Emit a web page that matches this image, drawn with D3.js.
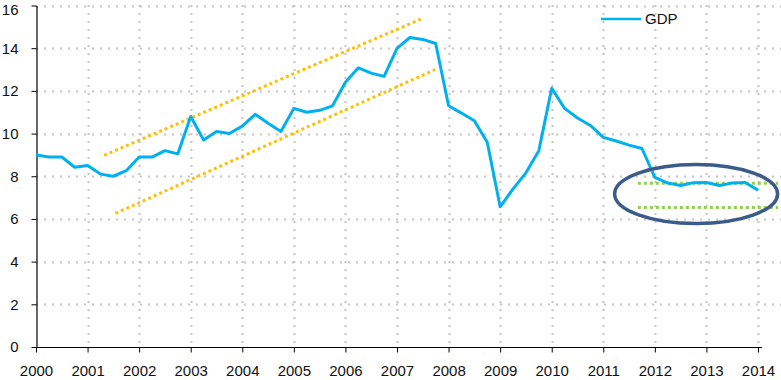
<!DOCTYPE html>
<html><head><meta charset="utf-8">
<script src="https://cdn.jsdelivr.net/npm/d3@7"></script>
<style>html,body{margin:0;padding:0;background:#fff;}svg{display:block;font-family:"Liberation Sans",Arial,sans-serif;}</style>
</head><body>
<svg id="c" width="781" height="380"></svg>
<script>
const startYear = 2000;
const gdp = [9.0,8.9,8.9,8.42,8.5,8.1,8.0,8.26,8.9,8.9,9.2,9.05,10.8,9.7,10.1,10.0,10.35,10.9,10.48,10.1,
  11.18,11.0,11.09,11.3,12.4,13.08,12.83,12.68,13.99,14.5,14.41,14.22,11.3,10.96,10.6,9.59,6.57,7.41,8.16,9.2,
  12.12,11.18,10.73,10.38,9.82,9.65,9.46,9.3,7.95,7.68,7.57,7.7,7.71,7.57,7.68,7.71,7.35];
const yearTicks = d3.range(2000, 2015);
const valueTicks = [0,2,4,6,8,10,12,14,16];
const upTrendUpper = [[2001.32, 8.98],[2007.46, 15.36]];
const upTrendLower = [[2001.54, 6.26],[2007.74, 13.0]];
const flatUpper = [[2011.67, 7.67],[2014.39, 7.67]];
const flatLower = [[2011.67, 6.54],[2014.39, 6.54]];
const ellipseSpec = {cx: 2012.80, cy: 7.17, rxYears: 1.58, ryValue: 1.38};
const seriesName = "GDP";

const svg = d3.select("#c");
const x = d3.scaleLinear().domain([2000, 2014]).range([36, 758]);
const y = d3.scaleLinear().domain([0, 16]).range([347, 5.5]);

// grid
const grid = svg.append("g");
grid.selectAll("line.h").data(valueTicks.filter(v => v > 0)).join("line")
  .attr("x1", 36).attr("x2", 781).attr("y1", d => Math.round(y(d)) + 0.5).attr("y2", d => Math.round(y(d)) + 0.5)
  .attr("stroke", "#c4c4c4").attr("stroke-width", 2).attr("stroke-dasharray", "2,6");
grid.selectAll("line.v").data(yearTicks.filter(v => v > 2000)).join("line")
  .attr("y1", 5).attr("y2", 347).attr("x1", d => Math.round(x(d)) + 0.5).attr("x2", d => Math.round(x(d)) + 0.5)
  .attr("stroke", "#c4c4c4").attr("stroke-width", 2).attr("stroke-dasharray", "2,6");

// axes
const xAxis = svg.append("g").attr("transform", "translate(0,347.5)")
  .call(d3.axisBottom(x).tickValues(yearTicks).tickFormat(d3.format("d")).tickSizeInner(5).tickSizeOuter(0).tickPadding(13));
const yAxis = svg.append("g").attr("transform", "translate(36.5,0)")
  .call(d3.axisLeft(y).tickValues(valueTicks).tickSizeInner(5).tickSizeOuter(0).tickPadding(13));
[xAxis, yAxis].forEach(a => {
  a.select(".domain").attr("stroke", "#000").attr("stroke-width", 1.2);
  a.selectAll(".tick line").attr("stroke", "#000");
  a.selectAll("text").attr("font-size", 15).attr("fill", "#111").attr("font-family", '"Liberation Sans",Arial,sans-serif');
});
xAxis.select(".domain").attr("d", `M36,0H762`);
// keep the top label inside the picture
yAxis.selectAll(".tick text").filter(d => d === 16).attr("dy", "0.62em");

// trend lines
const lineGen = d3.line().x(d => x(d[0])).y(d => y(d[1]));
[upTrendUpper, upTrendLower].forEach(t => svg.append("path").attr("d", lineGen(t))
  .attr("fill", "none").attr("stroke", "#FFC000").attr("stroke-width", 3).attr("stroke-dasharray", "3,3"));
[flatUpper, flatLower].forEach(t => svg.append("path").attr("d", lineGen(t))
  .attr("fill", "none").attr("stroke", "#92D050").attr("stroke-width", 3).attr("stroke-dasharray", "3,3"));

// series
const series = gdp.map((v, i) => [startYear + i / 4, v]);
svg.append("path").attr("d", lineGen(series)).attr("fill", "none")
  .attr("stroke", "#00B0F0").attr("stroke-width", 3).attr("stroke-linejoin", "round");

// ellipse
svg.append("ellipse")
  .attr("cx", x(ellipseSpec.cx)).attr("cy", y(ellipseSpec.cy))
  .attr("rx", x(startYear + ellipseSpec.rxYears) - x(startYear))
  .attr("ry", y(0) - y(ellipseSpec.ryValue))
  .attr("fill", "none").attr("stroke", "#3B5B8A").attr("stroke-width", 3.5);

// legend
const lg = svg.append("g");
lg.append("line").attr("x1", 601).attr("x2", 641).attr("y1", 19).attr("y2", 19).attr("stroke", "#00B0F0").attr("stroke-width", 2.5);
lg.append("text").attr("x", 645).attr("y", 19).attr("dy", "0.35em").attr("font-size", 15).attr("fill", "#111").text(seriesName);
</script>
</body></html>
